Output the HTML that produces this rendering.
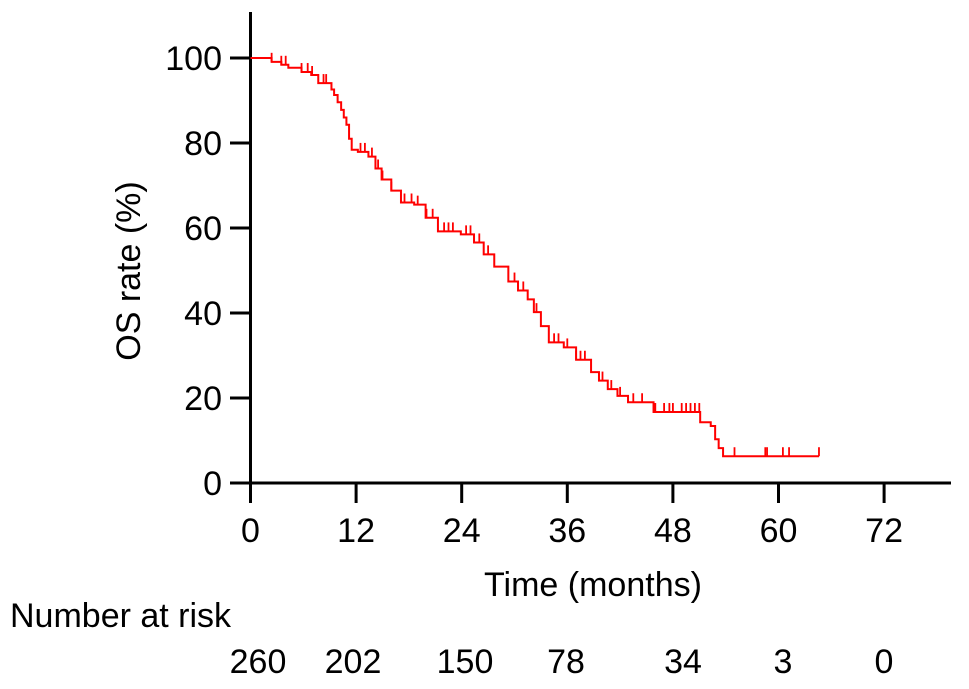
<!DOCTYPE html>
<html><head><meta charset="utf-8"><style>
body{margin:0;background:#fff;}
svg text{font-family:"Liberation Sans",Arial,sans-serif;fill:#000;}
</style></head><body>
<svg width="969" height="684" viewBox="0 0 969 684">
<g id="axes"></g>
<g id="curve"></g>
<text x="140" y="271" font-size="34" text-anchor="middle" transform="rotate(-90 140 271)">OS rate (%)</text>
<text x="593" y="596" font-size="34" text-anchor="middle">Time (months)</text>
<text x="10" y="627" font-size="34">Number at risk</text>
<g id="risk"></g>
</svg>
<script>
const times=[0,2.4,3.5,4.3,5.8,6.9,7.7,8.8,9.2,9.5,9.9,10.3,10.6,10.9,11.2,11.5,12.2,13.4,14.2,14.9,16.0,17.1,18.6,19.9,21.3,23.9,25.4,26.5,27.7,28.7,29.3,30.4,31.5,32.2,33.0,33.9,35.6,37.0,38.7,39.6,40.6,41.7,42.9,45.8,51.1,52.3,52.8,53.2,53.7];
const surv=[100,99.1,98.4,97.7,96.7,96.0,94.1,94.1,92.6,91.3,89.6,87.8,86.0,84.3,81.0,78.4,77.9,76.8,74.0,71.4,68.8,66.0,65.5,62.4,59.2,58.5,56.6,53.8,50.9,50.9,47.4,45.3,43.2,40.2,36.9,33.1,31.9,29.0,26.1,24.1,22.1,20.5,19.0,16.7,14.3,13.4,10.3,8.2,6.3];
const endTime=64.6;
const censorTimes=[2.4,3.5,4.0,5.8,6.5,7.0,8.3,8.6,12.5,13.0,13.8,14.5,15.0,16.0,17.5,18.3,19.0,20.0,20.7,22.0,22.5,23.0,24.5,25.0,26.0,27.0,30.0,31.0,32.5,34.5,35.0,36.0,37.0,37.5,38.0,40.0,41.0,42.0,43.5,44.5,46.0,47.0,47.6,48.0,49.0,49.5,50.0,50.5,51.0,55.0,58.5,58.7,60.5,61.2,64.6];
const xTicks=[0,12,24,36,48,60,72];
const yTicks=[0,20,40,60,80,100];
const riskLabels=["260","202","150","78","34","3","0"];
const riskPos=[258,353,465,566,683,783,884];
const X=t=>250.5+t*(105.6/12);
const Y=v=>483-v*4.25;
const NS="http://www.w3.org/2000/svg";
function mk(tag,attrs,parent){const e=document.createElementNS(NS,tag);for(const k in attrs)e.setAttribute(k,attrs[k]);parent.appendChild(e);return e;}
const axes=document.getElementById('axes');
let l=mk('line',{x1:250.5,y1:12,x2:250.5,y2:484,stroke:'#000','stroke-width':3},axes);

l=mk('line',{x1:230,y1:483,x2:951,y2:483,stroke:'#000','stroke-width':3},axes);

xTicks.forEach(t=>{
 const tk=mk('line',{x1:X(t),y1:483,x2:X(t),y2:503,stroke:'#000','stroke-width':3},axes);
 
 const tx=mk('text',{x:X(t),y:542,'font-size':34,'text-anchor':'middle'},axes);tx.textContent=t;
 
});
yTicks.forEach(v=>{
 const tk=mk('line',{x1:230,y1:Y(v),x2:251,y2:Y(v),stroke:'#000','stroke-width':3},axes);
 
 const tx=mk('text',{x:222,y:Y(v)+12,'font-size':34,'text-anchor':'end'},axes);tx.textContent=v;
 
});
const curve=document.getElementById('curve');
let d='M'+X(times[0])+','+Y(surv[0]);
for(let i=1;i<times.length;i++){d+=' H'+X(times[i])+' V'+Y(surv[i]);}
d+=' H'+X(endTime);
const p=mk('path',{d:d,fill:'none',stroke:'#f00','stroke-width':2},curve);

function sAt(t){let s=surv[0];for(let i=0;i<times.length;i++){if(times[i]<=t)s=surv[i];}return s;}
censorTimes.forEach(t=>{
 const y=Y(sAt(t));
 const c=mk('line',{x1:X(t),y1:y,x2:X(t),y2:y-9,stroke:'#f00','stroke-width':1.8},curve);
 
});
const risk=document.getElementById('risk');
riskLabels.forEach((r,i)=>{
 const tx=mk('text',{x:riskPos[i],y:673,'font-size':34,'text-anchor':'middle'},risk);tx.textContent=r;
 
});
</script>
</body></html>
